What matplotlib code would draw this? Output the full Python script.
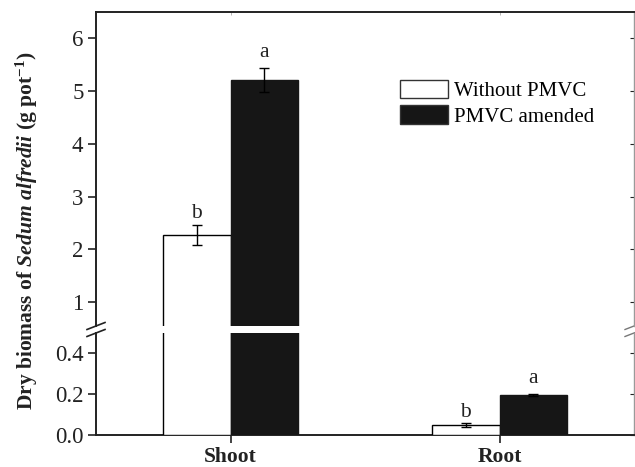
import numpy as np
import matplotlib; matplotlib.use('Agg')
import matplotlib.pyplot as plt
from matplotlib.patches import Patch

plt.rcParams['font.family'] = ['Liberation Serif', 'DejaVu Serif']
plt.rcParams['mathtext.fontset'] = 'custom'
plt.rcParams['mathtext.rm'] = 'Liberation Serif:bold'
plt.rcParams['mathtext.it'] = 'Liberation Serif:italic:bold'
plt.rcParams['mathtext.bf'] = 'Liberation Serif:bold'

# data
PARTS = ['Shoot', 'Root']
SERIES = ['Without PMVC', 'PMVC amended']
MEANS = np.array([[2.28, 0.050],    # without PMVC
                  [5.21, 0.196]])   # PMVC amended
ERRS = np.array([[0.19, 0.010],
                 [0.23, 0.006]])
LETTERS = [['b', 'b'], ['a', 'a']]
FACES = ['white', '#161616']
EDGES = ['black', '#161616']
LETTER_PAD = {'a': 8.0, 'b': 4.5}   # points above error bar

TOP_LIM = (0.55, 6.5)
LOW_LIM = (0.0, 0.5)

fig = plt.figure(figsize=(6.35, 4.67), dpi=100)
L, W = 96/635, 538/635
ax_top = fig.add_axes([L, 1-326/467, W, 314/467])
ax_low = fig.add_axes([L, 1-435/467, W, 102/467])

x = np.arange(len(PARTS)); w = 0.25
for ax in (ax_top, ax_low):
    for i in range(2):
        ax.bar(x + (i-0.5)*w, MEANS[i], w, yerr=ERRS[i], color=FACES[i],
               edgecolor=EDGES[i], linewidth=1.0, capsize=3.5,
               error_kw=dict(ecolor='black', elinewidth=1.0, capthick=1.0), zorder=3)
    ax.set_xlim(-0.5, 1.5)
    for s in ('left', 'bottom', 'top'):
        ax.spines[s].set_linewidth(1.4)
        ax.spines[s].set_color('#222222')
    ax.spines['right'].set_linewidth(1.0)
    ax.spines['right'].set_color('#9a9a9a')
    ax.tick_params(axis='y', which='major', direction='out', length=6, width=1.2,
                   labelsize=16.5, pad=3, colors='#222222', labelcolor='#222222')
    ax.tick_params(axis='y', right=True, labelright=False)
    for t in ax.yaxis.get_major_ticks():
        t.tick2line.set_color('#9a9a9a'); t.tick2line.set_markersize(3)
        t.tick2line.set_marker(0); t.tick2line.set_markeredgewidth(0.8)

ax_top.set_ylim(*TOP_LIM)
ax_top.set_yticks([1, 2, 3, 4, 5, 6])
ax_top.spines['bottom'].set_visible(False)
ax_top.set_xticks(x)
ax_top.tick_params(axis='x', bottom=False, labelbottom=False, top=True,
                   direction='in', length=2, width=0.6, colors='#aaaaaa')

ax_low.set_ylim(*LOW_LIM)
ax_low.set_yticks([0.0, 0.2, 0.4])
ax_low.set_yticklabels(['0.0', '0.2', '0.4'])
ax_low.spines['top'].set_visible(False)
ax_low.set_xticks(x)
ax_low.set_xticklabels(PARTS, fontsize=15.5, fontweight='bold')
ax_low.tick_params(axis='x', direction='out', length=6, width=1.2, pad=2.5,
                   colors='#222222', labelcolor='#222222')

# significance letters
for i in range(2):
    for j in range(len(PARTS)):
        ytop = MEANS[i, j] + ERRS[i, j]
        ax = ax_top if ytop > LOW_LIM[1] else ax_low
        ax.annotate(LETTERS[i][j], (x[j] + (i-0.5)*w, ytop),
                    xytext=(0, LETTER_PAD[LETTERS[i][j]]), textcoords='offset points',
                    ha='center', va='baseline', fontsize=15.5, color='#222222')

# axis break marks
dx_t, dy_t = 9/538, 3.5/314
dx_l, dy_l = 9/538, 3.5/102
for xs, c, lw in ((0, '#222222', 1.2), (1, '#777777', 1.0)):
    ax_top.plot([xs-dx_t, xs+dx_t], [-dy_t, dy_t], transform=ax_top.transAxes,
                color=c, lw=lw, clip_on=False)
    ax_low.plot([xs-dx_l, xs+dx_l], [1-dy_l, 1+dy_l], transform=ax_low.transAxes,
                color=c, lw=lw, clip_on=False)

ax_top.legend(handles=[Patch(facecolor=FACES[i], edgecolor='#333333', linewidth=1.0,
                             label=SERIES[i]) for i in range(2)],
              loc='upper left', bbox_to_anchor=(0.565, 0.785), frameon=False,
              fontsize=15, handlelength=2.3, handleheight=1.0, handletextpad=0.3,
              labelspacing=0.2, borderpad=0, borderaxespad=0)

fig.text(0.043, 0.505, r'Dry biomass of $\mathit{Sedum\ alfredii}$ (g pot$^{\mathbf{-1}}$)',
         rotation=90, ha='center', va='center', fontsize=15.5, fontweight='bold',
         color='#222222')

fig.savefig('out.png', dpi=100)
